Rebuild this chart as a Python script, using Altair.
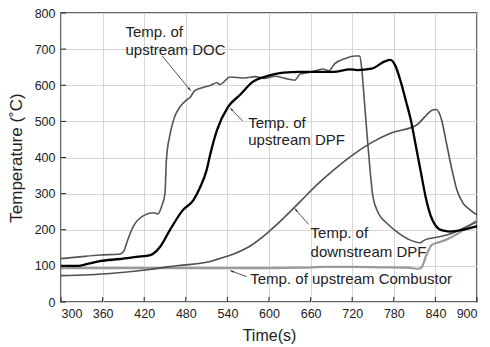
import math
import altair as alt
import pandas as pd

# ---------------- data ----------------
doc_t = [300, 327, 356, 385, 390, 397, 404, 419, 433, 440, 445, 450, 452, 457, 464, 472, 481, 486,
         493, 505, 515, 525, 529, 544, 565, 580, 594, 609, 623, 637, 645, 662, 678, 686, 695, 710,
         724, 731, 734, 738, 742, 746, 750, 758, 770, 784, 803, 818, 825, 842, 861, 880, 900]
doc_T = [120, 125, 130, 133, 139, 176, 208, 239, 247, 244, 264, 301, 393, 462, 513, 541, 559, 566,
         585, 594, 599, 607, 602, 623, 620, 624, 619, 625, 619, 614, 631, 637, 645, 640, 660, 674,
         681, 681, 640, 545, 450, 360, 290, 245, 218, 195, 172, 164, 172, 179, 188, 204, 222]

updpf_t = [300, 325, 337, 356, 385, 409, 429, 443, 457, 476, 491, 500, 510, 515, 525, 541, 558,
           577, 597, 621, 645, 669, 693, 717, 727, 748, 767, 775, 782, 790, 797, 805, 812, 819,
           826, 833, 840, 850, 861, 880, 900]
updpf_T = [100, 100, 105, 113, 119, 125, 130, 153, 199, 255, 282, 315, 365, 407, 476, 540, 573,
           610, 625, 635, 637, 637, 637, 644, 642, 646, 666, 670, 655, 610, 560, 500, 430, 360,
           290, 240, 212, 198, 195, 200, 210]

dndpf_t = [300, 371, 428, 457, 476, 515, 525, 549, 573, 597, 621, 645, 669, 693, 717, 746, 775,
           813, 825, 835, 841, 849, 856, 864, 871, 880, 890, 900]
dndpf_T = [73, 79, 90, 98, 102, 112, 118, 133, 155, 190, 232, 278, 324, 365, 402, 439, 467,
           490, 513, 531, 533, 504, 439, 365, 310, 273, 255, 241]

comb_t = [300, 400, 500, 600, 650, 680, 720, 760, 800, 815, 820, 827, 835, 845, 855, 873, 900]
comb_T = [94, 94, 94, 94, 95, 97, 97, 96, 95, 92, 96, 130, 158, 165, 172, 190, 227]

x_ticks = [300, 360, 420, 480, 540, 600, 660, 720, 780, 840, 900]
y_ticks = [0, 100, 200, 300, 400, 500, 600, 700, 800]

label_text = ["Temp. of", "upstream DOC", "Temp. of", "upstream DPF",
              "Temp. of", "downstream DPF", "Temp. of upstream Combustor"]
label_t = [393, 393, 570, 570, 660, 660, 573]
label_T = [747, 697, 496, 448, 190, 139, 64]

arrow_t0 = [446, 562, 657, 568]
arrow_T0 = [681, 501, 215, 70]
arrow_t1 = [487, 544, 637, 544]
arrow_T1 = [585, 537, 259, 87]

# ---------------- layout ----------------
W, H = 416, 289
XD, YD = [300, 900], [0, 800]
FONT = "Liberation Sans"

xs = alt.Scale(domain=XD, nice=False, zero=False)
ys = alt.Scale(domain=YD, nice=False, zero=True)

x_axis = alt.Axis(values=x_ticks, title="Time(s)", grid=True, ticks=False, domain=False,
                  labelPadding=5, titlePadding=8, labelOverlap=False)
y_axis = alt.Axis(values=y_ticks, title="Temperature (˚C)", grid=True, ticks=False,
                  domain=False, labelPadding=6, titlePadding=9, labelOverlap=False,
                  titleFontSize=17)


def X(field):
    return alt.X(field, type="quantitative", scale=xs, axis=x_axis)


def Y(field):
    return alt.Y(field, type="quantitative", scale=ys, axis=y_axis)


def line_layer(t, T, color, width):
    df = pd.DataFrame({"t": t, "T": T, "o": range(len(t))})
    return alt.Chart(df).mark_line(color=color, strokeWidth=width, interpolate="monotone").encode(
        x=X("t"), y=Y("T"), order="o:Q")


xt = alt.Chart(pd.DataFrame({"t": x_ticks})).mark_rule(color="#222", strokeWidth=1).encode(
    x=X("t"), y=alt.value(H), y2=alt.value(H - 5))
yt = alt.Chart(pd.DataFrame({"T": y_ticks})).mark_rule(color="#222", strokeWidth=1).encode(
    y=Y("T"), x=alt.value(0), x2=alt.value(5))

comb = line_layer(comb_t, comb_T, "#9a9a9a", 2.2)
dn = line_layer(dndpf_t, dndpf_T, "#505050", 1.6)
doc = line_layer(doc_t, doc_T, "#555555", 1.6)
up = line_layer(updpf_t, updpf_T, "#000000", 2.3)

# annotations
sx, sy = W / (XD[1] - XD[0]), H / (YD[1] - YD[0])
angles = []
for a0, b0, a1, b1 in zip(arrow_t0, arrow_T0, arrow_t1, arrow_T1):
    dx = (a1 - a0) * sx
    dy = -(b1 - b0) * sy
    angles.append(math.degrees(math.atan2(dx, -dy)) % 360)

arr_df = pd.DataFrame({"t": arrow_t0, "T": arrow_T0, "t2": arrow_t1, "T2": arrow_T1, "ang": angles})
arrows = alt.Chart(arr_df).mark_rule(color="#444", strokeWidth=0.9).encode(
    x=X("t"), y=Y("T"), x2="t2:Q", y2="T2:Q")
heads = alt.Chart(arr_df).mark_point(shape="M0,0L-1,3.6L1,3.6Z", size=4, filled=True, color="#222",
                                     opacity=1, strokeWidth=0).encode(
    x=X("t2"), y=Y("T2"), angle=alt.Angle("ang:Q", scale=None))

lab_df = pd.DataFrame({"t": label_t, "T": label_T, "txt": label_text})
labels = alt.Chart(lab_df).mark_text(align="left", baseline="middle", fontSize=15, font=FONT,
                                     color="#222").encode(
    x=X("t"), y=Y("T"), text="txt:N")

chart = alt.layer(comb, dn, doc, up, xt, yt, arrows, heads, labels).properties(
    width=W, height=H,
    autosize=alt.AutoSizeParams(type="none"),
    padding={"left": 61, "top": 13, "right": 13, "bottom": 45},
    background="white",
).configure_view(stroke="#333", strokeWidth=1.5).configure_axis(
    gridColor="#d6d6d6", gridWidth=1, labelFont=FONT, labelFontSize=12.5, labelColor="#222",
    titleFont=FONT, titleFontSize=16, titleFontWeight="normal", titleColor="#222",
)

chart.save("out.html", embed_options={"renderer": "svg", "actions": False})
